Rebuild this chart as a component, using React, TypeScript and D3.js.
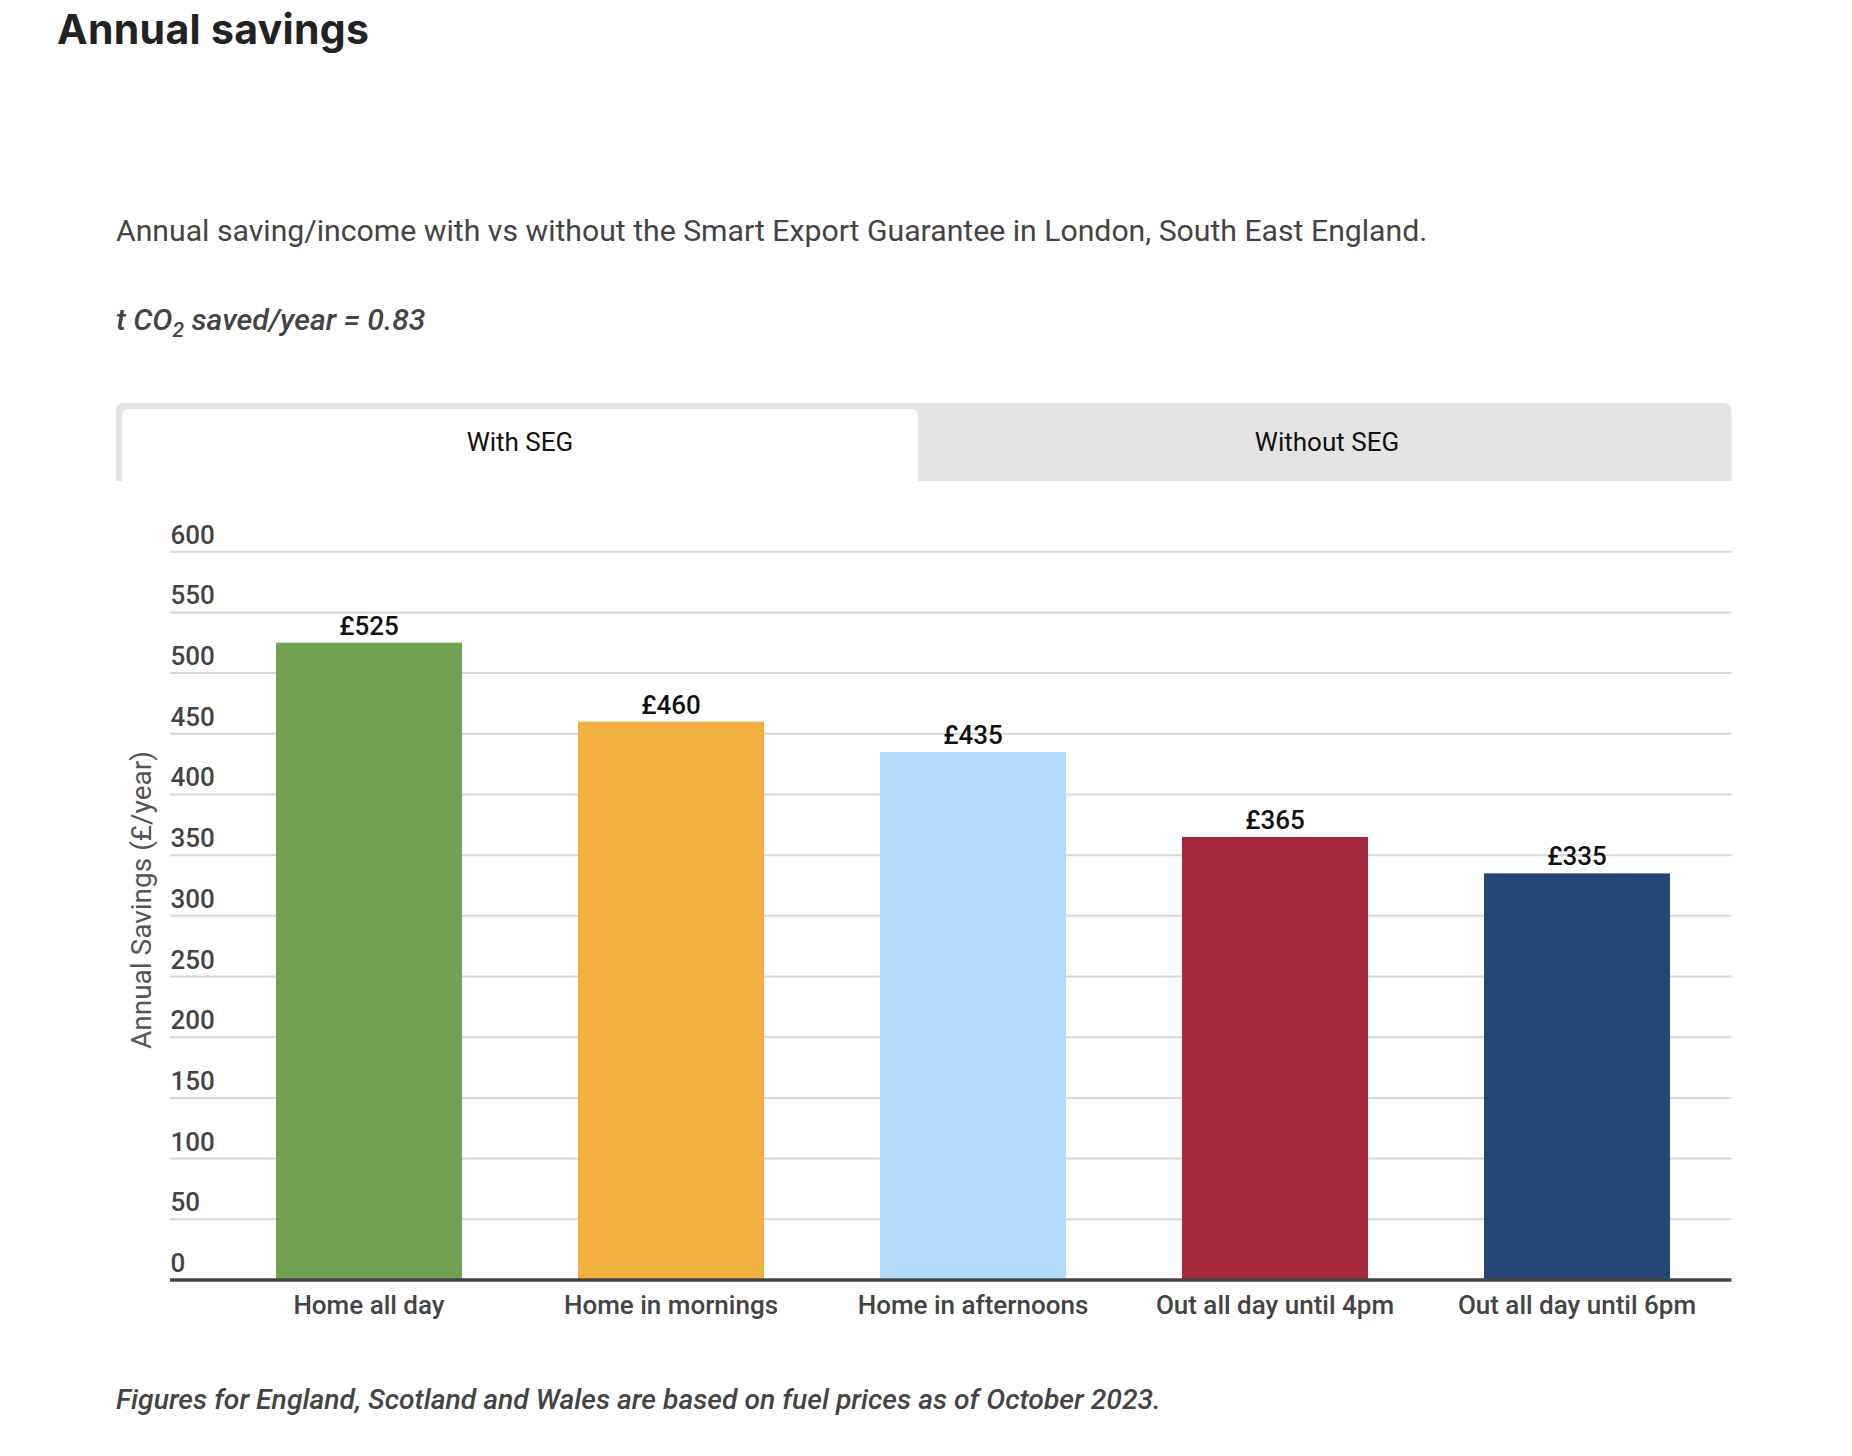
import React from "react";
import * as d3 from "d3";

const categories = [
  "Home all day",
  "Home in mornings",
  "Home in afternoons",
  "Out all day until 4pm",
  "Out all day until 6pm",
];
const savings = [525, 460, 435, 365, 335];
const barColors = ["#72A152", "#F2B041", "#B3DAFB", "#A6283E", "#244773"];
const yTicks = [0, 50, 100, 150, 200, 250, 300, 350, 400, 450, 500, 550, 600];
const tabs = ["With SEG", "Without SEG"];

const W = 1852;
const H = 1456;

export default function App() {
  const x = d3
    .scaleBand<string>()
    .domain(categories)
    .range([218, 1728])
    .paddingInner(0.384)
    .paddingOuter(0.192);
  const y = d3.scaleLinear().domain([0, 600]).range([1280, 551.7]);

  const gridX0 = 170;
  const gridX1 = 1731.5;

  return (
    <svg
      width={W}
      height={H}
      viewBox={`0 0 ${W} ${H}`}
      style={{ position: "absolute", left: 0, top: 0, background: "#fff" }}
    >
      <rect x={0} y={0} width={W} height={H} fill="#fff" />
      {/* Page title */}
      <text
        x={57}
        y={44}
        fontFamily="Inter, 'Noto Sans', sans-serif"
        fontWeight={650}
        fontSize={41}
        textLength={312}
        lengthAdjust="spacing"
        fill="#222"
      >
        Annual savings
      </text>
      {/* Subtitle */}
      <text
        x={116}
        y={241}
        fontFamily="Roboto, sans-serif"
        fontSize={30.2}
        fill="#444"
      >
        Annual saving/income with vs without the Smart Export Guarantee in London, South East England.
      </text>
      <text
        x={116}
        y={330}
        fontFamily="Roboto, sans-serif"
        fontSize={30.2}
        fontStyle="italic"
        fontWeight={500}
        fill="#444"
      >
        t CO
        <tspan fontSize={21} dy={7}>2</tspan>
        <tspan dy={-7}> saved/year = 0.83</tspan>
      </text>

      {/* Tabs */}
      <path
        d={`M116,481 V411 Q116,403 124,403 H1723.5 Q1731.5,403 1731.5,411 V481 Z`}
        fill="#E4E4E4"
      />
      <path
        d={`M122,481 V416 Q122,409 129,409 H911 Q918,409 918,416 V481 Z`}
        fill="#fff"
      />
      <text
        x={520}
        y={451}
        textAnchor="middle"
        fontFamily="Roboto, sans-serif"
        fontSize={26}
        fill="#111"
      >
        {tabs[0]}
      </text>
      <text
        x={1327}
        y={451}
        textAnchor="middle"
        fontFamily="Roboto, sans-serif"
        fontSize={26}
        fill="#111"
      >
        {tabs[1]}
      </text>

      {/* Gridlines and y tick labels */}
      {yTicks.map((t) => (
        <g key={t}>
          {t !== 0 && (
            <line
              x1={gridX0}
              x2={gridX1}
              y1={y(t)}
              y2={y(t)}
              stroke="#D8D8D8"
              strokeWidth={2}
            />
          )}
          <text
            x={170.5}
            y={y(t) - 8}
            fontFamily="Roboto, sans-serif"
            fontWeight={500}
            fontSize={26}
            fill="#444"
          >
            {t}
          </text>
        </g>
      ))}

      {/* Y axis title */}
      <text
        transform={`translate(${141.5},${900}) rotate(-90)`}
        textAnchor="middle"
        dominantBaseline="central"
        fontFamily="Roboto, sans-serif"
        fontSize={28}
        fill="#555"
      >
        Annual Savings (£/year)
      </text>

      {/* Bars */}
      {categories.map((c, i) => (
        <g key={c}>
          <rect
            x={x(c)}
            y={y(savings[i])}
            width={x.bandwidth()}
            height={y(0) - y(savings[i])}
            fill={barColors[i]}
          />
          <text
            x={(x(c) as number) + x.bandwidth() / 2}
            y={y(savings[i]) - 8}
            textAnchor="middle"
            fontFamily="Roboto, sans-serif"
            fontWeight={500}
            fontSize={26}
            fill="#111"
          >
            {"£" + savings[i]}
          </text>
          <text
            x={(x(c) as number) + x.bandwidth() / 2}
            y={1314}
            textAnchor="middle"
            fontFamily="Roboto, sans-serif"
            fontWeight={500}
            fontSize={26}
            fill="#444"
          >
            {c}
          </text>
        </g>
      ))}

      {/* Baseline axis */}
      <line
        x1={gridX0}
        x2={gridX1}
        y1={y(0)}
        y2={y(0)}
        stroke="#444"
        strokeWidth={3.5}
      />

      {/* Footer */}
      <text
        x={116}
        y={1409}
        fontFamily="Roboto, sans-serif"
        fontSize={28.3}
        fontStyle="italic"
        fontWeight={500}
        fill="#444"
      >
        Figures for England, Scotland and Wales are based on fuel prices as of October 2023.
      </text>
    </svg>
  );
}
